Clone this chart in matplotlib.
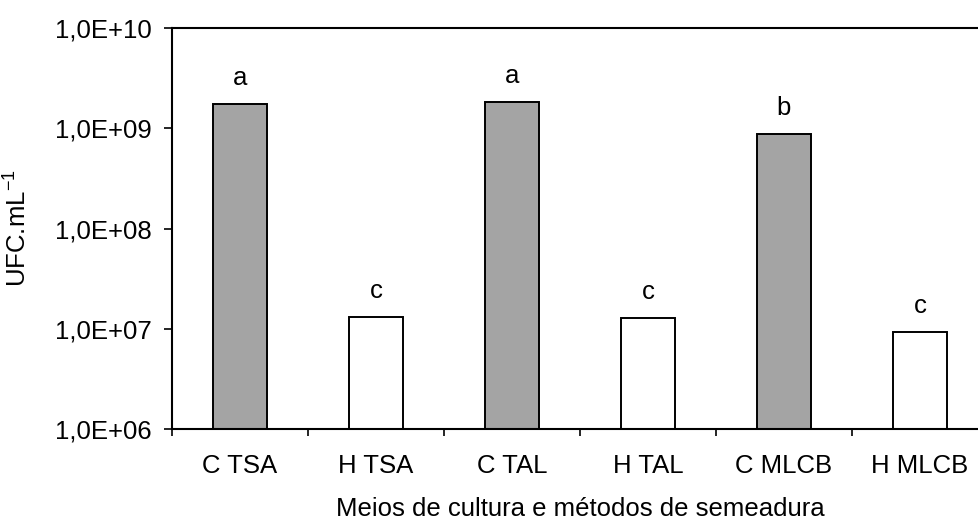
import matplotlib
matplotlib.use("Agg")
import matplotlib.pyplot as plt
from matplotlib.ticker import FixedLocator, NullLocator, FuncFormatter

plt.rcParams["font.family"] = ["Liberation Sans", "DejaVu Sans"]
plt.rcParams["mathtext.fontset"] = "custom"
plt.rcParams["mathtext.rm"] = "Liberation Sans"
plt.rcParams["mathtext.it"] = "Liberation Sans:italic"
plt.rcParams["mathtext.bf"] = "Liberation Sans:bold"

# Culture media / plating methods and counts (CFU per mL)
categories = ["C TSA", "H TSA", "C TAL", "H TAL", "C MLCB", "H MLCB"]
counts = [1.73e9, 1.31e7, 1.83e9, 1.28e7, 8.7e8, 9.3e6]
letters = ["a", "c", "a", "c", "b", "c"]
fills = ["#a4a4a4", "white", "#a4a4a4", "white", "#a4a4a4", "white"]
y_ticks = [1e6, 1e7, 1e8, 1e9, 1e10]

W, H = 979, 522
fig = plt.figure(figsize=(W / 100, H / 100), dpi=100)
ax = fig.add_axes([172 / W, (H - 429) / H, 816 / W, 401 / H])

x = list(range(len(categories)))
ax.bar(x, counts, width=0.4, color=fills, edgecolor="black", linewidth=1.4,
       zorder=2)

for xi, v, lab in zip(x, counts, letters):
    ax.annotate(lab, (xi, v), xytext=(0, 10), textcoords="offset points",
                ha="center", va="bottom", fontsize=18.5)

ax.set_yscale("log")
ax.set_ylim(y_ticks[0], y_ticks[-1])
ax.set_xlim(-0.5, len(categories) - 0.5)

ax.yaxis.set_major_locator(FixedLocator(y_ticks))
ax.yaxis.set_minor_locator(NullLocator())


def sci_comma(v, pos):
    s = f"{v:.1E}"
    mant, exp = s.split("E")
    return f"{mant.replace('.', ',')}E+{int(exp):02d}"


ax.yaxis.set_major_formatter(FuncFormatter(sci_comma))

# boundaries between categories carry the tick marks, labels sit in between
ax.xaxis.set_major_locator(FixedLocator([i - 0.5 for i in range(len(categories) + 1)]))
ax.xaxis.set_major_formatter(FuncFormatter(lambda v, p: ""))
ax.xaxis.set_minor_locator(FixedLocator(x))
ax.set_xticklabels(categories, minor=True)

ax.tick_params(axis="y", which="major", direction="out", length=5.8, width=1.2,
               pad=8.6, labelsize=18.5)
ax.tick_params(axis="x", which="major", direction="out", length=5, width=1.2)
ax.tick_params(axis="x", which="minor", length=0, pad=18, labelsize=18.5)

for side in ("left", "top", "bottom"):
    ax.spines[side].set_linewidth(1.5)
ax.spines["right"].set_visible(False)

ax.set_ylabel("UFC.mL$^{-1}$", fontsize=18.5)
ax.yaxis.set_label_coords(-0.172, 0.5)
ax.set_xlabel("Meios de cultura e métodos de semeadura", fontsize=18.5, labelpad=14)

fig.savefig("out.png", dpi=100)
